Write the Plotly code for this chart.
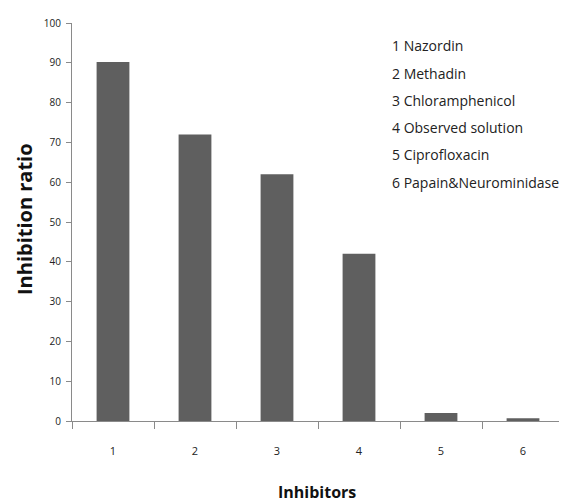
import plotly.graph_objects as go

categories = ["1", "2", "3", "4", "5", "6"]
values = [90.2, 72, 62, 42, 2, 0.7]
legend_lines = ["1 Nazordin", "2 Methadin", "3 Chloramphenicol",
                "4 Observed solution", "5 Ciprofloxacin", "6 Papain&Neurominidase"]
y_ticks = list(range(0, 101, 10))

W, H = 567, 502
OFF = 8  # page body margin offset
# target plot area in screenshot pixels: x 72..564, y 23..421
PX0, PX1, PY0, PY1 = 72, 564, 23, 421
L, R, T, B = PX0 - OFF, W - (PX1 - OFF), PY0 - OFF, H - (PY1 - OFF)


def px(xp):
    return (xp - PX0) / (PX1 - PX0)


def py(yp):
    return (PY1 - yp) / (PY1 - PY0)


fig = go.Figure()
fig.add_trace(go.Bar(x=categories, y=values, marker=dict(color="#5f5f5f", line=dict(width=0)),
                     width=0.4))

font_family = "Open Sans, Noto Sans, sans-serif"
fig.update_layout(
    width=W, height=H,
    margin=dict(l=L, r=R, t=T, b=B, autoexpand=False),
    plot_bgcolor="white", paper_bgcolor="white",
    showlegend=False,
    font=dict(family=font_family, color="#222"),
    xaxis=dict(type="category", range=[-0.5, 5.5], showline=True, linecolor="#8a8a8a",
               linewidth=1, ticks="outside", ticklen=7, tickcolor="#8a8a8a",
               tickson="boundaries", showgrid=False, tickfont=dict(size=11),
               ticklabelstandoff=20),
    yaxis=dict(range=[0, 100], tickvals=y_ticks, showline=True, linecolor="#8a8a8a",
               linewidth=1, ticks="outside", ticklen=5, tickcolor="#8a8a8a",
               showgrid=False, zeroline=False, tickfont=dict(size=10),
               ticklabelstandoff=3),
)

# axis titles
fig.add_annotation(text="<b>Inhibitors</b>", xref="paper", yref="paper", x=px(317), y=py(492),
                   showarrow=False, font=dict(size=16, color="#111"),
                   xanchor="center", yanchor="middle")
fig.add_annotation(text="<b>Inhibition ratio</b>", xref="paper", yref="paper",
                   x=px(24), y=py(219), textangle=-90, showarrow=False, borderpad=0,
                   font=dict(size=20, color="#111"), xanchor="center", yanchor="middle")

# text box with names
for i, line in enumerate(legend_lines):
    ypix = 46 + i * 27.2
    fig.add_annotation(text=line, xref="paper", yref="paper",
                       x=px(390), y=py(ypix), xanchor="left", yanchor="middle",
                       showarrow=False, font=dict(size=14, color="#222"))

fig.write_html("out.html")
